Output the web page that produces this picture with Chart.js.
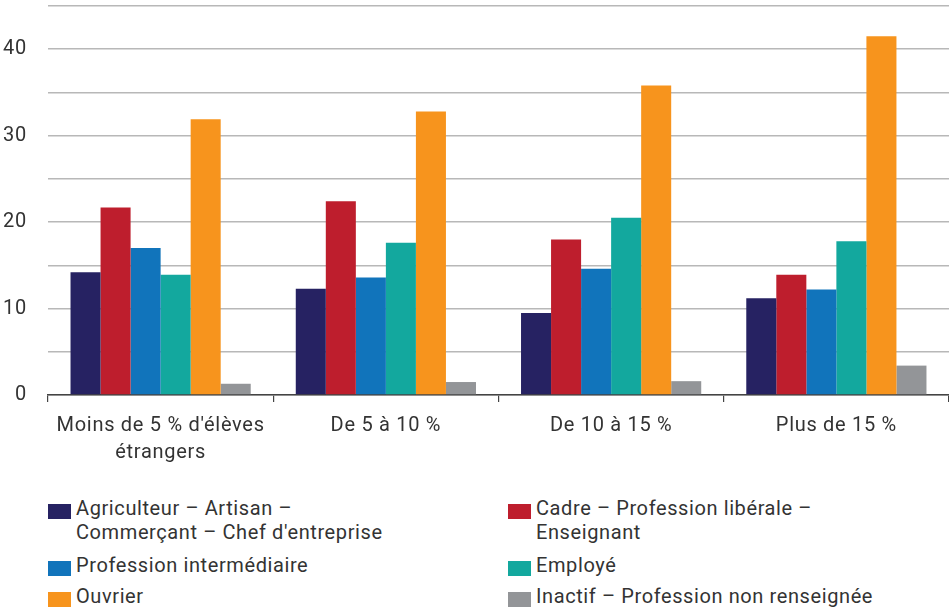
<!DOCTYPE html>
<html><head><meta charset="utf-8">
<script src="https://cdn.jsdelivr.net/npm/chart.js@4/dist/chart.umd.min.js"></script>
<style>
html,body{margin:0;padding:0;background:#fff;}
#wrap{position:relative;width:949px;height:609px;}
#c{position:absolute;left:0;top:0;}
.lg{position:absolute;font-family:Roboto,"Noto Sans",sans-serif;font-size:20px;line-height:24px;color:#333;letter-spacing:0.6px;}
.lg .box{position:absolute;left:0;top:4px;width:23px;height:15px;}
.lg .txt{position:absolute;left:28px;top:-4px;white-space:nowrap;}
</style></head>
<body><div id="wrap"><canvas id="c" width="949" height="475"></canvas><div id="legend"></div></div>
<script>
const categories = [["Moins de 5 % d'élèves","étrangers"], "De 5 à 10 %", "De 10 à 15 %", "Plus de 15 %"];
const seriesNames = [
  ["Agriculteur – Artisan –","Commerçant – Chef d'entreprise"],
  ["Cadre – Profession libérale –","Enseignant"],
  ["Profession intermédiaire"],
  ["Employé"],
  ["Ouvrier"],
  ["Inactif – Profession non renseignée"]
];
const agriculteur = [14.2, 12.3, 9.5, 11.2];
const cadre = [21.7, 22.4, 18.0, 13.9];
const intermediaire = [17.0, 13.6, 14.6, 12.2];
const employe = [13.9, 17.6, 20.5, 17.8];
const ouvrier = [31.9, 32.8, 35.8, 41.5];
const inactif = [1.3, 1.5, 1.6, 3.4];
const yTicks = [0, 10, 20, 30, 40];
const colors = ["#262262","#be1e2d","#1174bb","#13a89e","#f7941d","#939598"];
const seriesValues = [agriculteur, cadre, intermediaire, employe, ouvrier, inactif];

const datasets = seriesValues.map((v,i)=>({
  label: seriesNames[i].join(' '),
  data: v,
  backgroundColor: colors[i],
  borderWidth: 0,
  barPercentage: 1,
  categoryPercentage: 0.8
}));

const spacing = {
  id: 'spacing',
  beforeDraw(chart){ chart.ctx.letterSpacing = '0.7px'; }
};

new Chart(document.getElementById('c'), {
  type: 'bar',
  data: { labels: categories, datasets },
  plugins: [spacing],
  options: {
    responsive: false,
    animation: false,
    layout: { padding: { top: 6, right: 0, left: 0, bottom: 0 } },
    plugins: { legend: { display: false }, tooltip: { enabled: false } },
    scales: {
      x: {
        grid: { display: true, drawOnChartArea: false, drawTicks: true, tickLength: 7, color: '#444', lineWidth: 1.2 },
        border: { display: true, color: '#444', width: 1.5 },
        ticks: { color: '#333', font: { family: 'Roboto', size: 20, lineHeight: 1.35 }, padding: 10, maxRotation: 0 },
        afterFit: s => { s.height = 80; s.paddingLeft = 0; s.paddingRight = 0; }
      },
      y: {
        min: 0, max: 45,
        grid: { color: '#b8b8b8', lineWidth: 1.5, drawTicks: false },
        border: { display: false },
        ticks: { stepSize: 5, color: '#333', font: { family: 'Roboto', size: 20 }, padding: 21,
          callback: v => yTicks.includes(v) ? String(v) : '' },
        afterFit: s => { s.width = 48; s.paddingTop = 0; s.paddingBottom = 0; }
      }
    }
  }
});

const legendPos = [[48,500],[508,500],[48,557],[508,557],[48,588],[508,588]];
const lg = document.getElementById('legend');
seriesNames.forEach((n,i)=>{
  const d = document.createElement('div');
  d.className='lg';
  d.style.left = legendPos[i][0]+'px';
  d.style.top = legendPos[i][1]+'px';
  d.innerHTML = '<div class="box" style="background:'+colors[i]+'"></div><div class="txt">'+n.join('<br>')+'</div>';
  lg.appendChild(d);
});
</script></body></html>
